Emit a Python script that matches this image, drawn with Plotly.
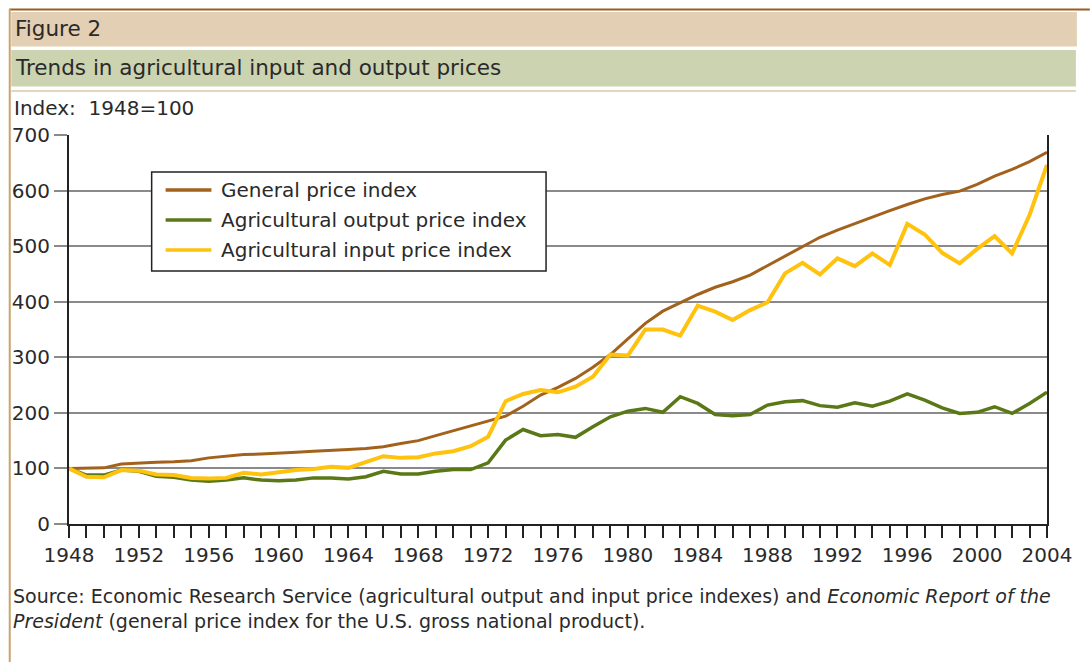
import plotly.graph_objects as go

# Dados (índice 1948 = 100)
anos = list(range(1948, 2005))

indice_geral = [100, 100, 101, 108, 110, 111, 112, 114, 119, 122,
                125, 126, 127, 129, 131, 132, 134, 136, 139, 145,
                150, 159, 168, 177, 185, 194, 212, 232, 246, 262,
                282, 305, 333, 361, 383, 398, 413, 426, 436, 448,
                465, 483, 500, 516, 529, 541, 553, 564, 575, 585,
                593, 599, 611, 626, 638, 652, 669]

indice_produto = [100, 88, 88, 97, 95, 86, 84, 79, 77, 79,
                  83, 79, 78, 79, 83, 83, 81, 85, 95, 90,
                  90, 95, 98, 98, 110, 151, 170, 159, 161, 156,
                  175, 193, 203, 208, 201, 229, 217, 197, 195, 197,
                  214, 220, 222, 213, 210, 218, 212, 221, 234, 223,
                  209, 199, 201, 211, 199, 217, 237]

indice_insumo = [100, 85, 84, 97, 96, 89, 88, 83, 82, 83,
                 92, 89, 93, 97, 99, 103, 101, 112, 122, 119,
                 120, 127, 131, 140, 157, 221, 234, 241, 237, 247,
                 265, 305, 303, 350, 350, 339, 393, 382, 367, 385,
                 399, 451, 470, 449, 478, 464, 487, 466, 540, 521,
                 488, 469, 495, 518, 487, 556, 646]

nomes = ['General price index', 'Agricultural output price index', 'Agricultural input price index']
cores = ['#A2621C', '#5A7816', '#FFC20E']
larguras = [3, 3.5, 4]

# Geometria da página (pixels)
W, H = 1090, 662
ML, MR, MT, MB = 65, 43, 135, 138
PW, PH = W - ML - MR, H - MB - MT


def px_x(p):
    return (p - ML) / PW


def px_y(p):
    return (H - MB - p) / PH


fig = go.Figure()
for nome, serie, cor, lw in zip(nomes, [indice_geral, indice_produto, indice_insumo], cores, larguras):
    fig.add_trace(go.Scatter(x=anos, y=serie, mode='lines', name=nome,
                             line=dict(color=cor, width=lw), showlegend=False))

fonte = 'Century Gothic, DejaVu Sans, sans-serif'
texto_cor = '#2a2a2a'

# Faixas do cabeçalho e bordas
fig.add_shape(type='line', xref='paper', yref='paper', x0=px_x(5), x1=px_x(1090),
              y0=px_y(9.5), y1=px_y(9.5), line=dict(color='#9A5C22', width=2))
fig.add_shape(type='line', xref='paper', yref='paper', x0=px_x(5.5), x1=px_x(5.5),
              y0=px_y(9), y1=px_y(662), line=dict(color='#C9A46E', width=2))
fig.add_shape(type='rect', xref='paper', yref='paper', x0=px_x(7), x1=px_x(1077),
              y0=px_y(12), y1=px_y(46.5), fillcolor='#E3CFB4', line_width=0)
fig.add_shape(type='rect', xref='paper', yref='paper', x0=px_x(7), x1=px_x(1076),
              y0=px_y(50), y1=px_y(86.5), fillcolor='#CBD3B1', line_width=0)
fig.add_shape(type='rect', xref='paper', yref='paper', x0=px_x(7), x1=px_x(1076),
              y0=px_y(90), y1=px_y(92), fillcolor='#E6D5BE', line_width=0)

anotacoes = [
    dict(text='Figure 2', x=px_x(9), y=px_y(29), size=21.5),
    dict(text='Trends in agricultural input and output prices', x=px_x(9), y=px_y(68), size=21.5),
    dict(text='Index:\u00a0\u00a01948=100', x=px_x(8), y=px_y(108), size=20),
]
for a in anotacoes:
    fig.add_annotation(text=a['text'], x=a['x'], y=a['y'], xref='paper', yref='paper',
                       xanchor='left', yanchor='middle', showarrow=False,
                       font=dict(family=fonte, size=a['size'], color=texto_cor))

fig.add_annotation(
    text='Source: Economic Research Service (agricultural output and input price indexes) and '
         '<i>Economic Report of the</i><br><i>President</i> (general price index for the U.S. gross national product).',
    x=px_x(7), y=px_y(583), xref='paper', yref='paper', xanchor='left', yanchor='top',
    align='left', showarrow=False, font=dict(family=fonte, size=19, color=texto_cor))

# Legenda desenhada à mão (caixa, amostras de linha e rótulos)
fig.add_shape(type='rect', xref='paper', yref='paper', x0=px_x(148), x1=px_x(544),
              y0=px_y(172), y1=px_y(271), fillcolor='white', line=dict(color='#222', width=1.5))
for i, (nome, cor) in enumerate(zip(nomes, cores)):
    yc = 190 + 30 * i
    fig.add_shape(type='line', xref='paper', yref='paper', x0=px_x(162), x1=px_x(208),
                  y0=px_y(yc), y1=px_y(yc), line=dict(color=cor, width=3.5))
    fig.add_annotation(text=nome, x=px_x(216), y=px_y(yc), xref='paper', yref='paper',
                       xanchor='left', yanchor='middle', showarrow=False,
                       font=dict(family=fonte, size=20, color=texto_cor))

fig.update_layout(
    width=W, height=H,
    margin=dict(l=ML, r=MR, t=MT, b=MB),
    paper_bgcolor='white', plot_bgcolor='white',
    font=dict(family=fonte, size=20, color=texto_cor),
    showlegend=False
)

fig.update_xaxes(range=[1948, 2004], tick0=1948, dtick=4, showgrid=False,
                 showline=True, linecolor='#222', linewidth=2,
                 ticks='outside', ticklen=12, tickcolor='#222', tickwidth=1.5,
                 minor=dict(dtick=1, ticks='outside', ticklen=12, tickcolor='#222', tickwidth=1.5, showgrid=False),
                 tickfont=dict(size=20), zeroline=False)
fig.update_yaxes(range=[0, 700], dtick=100, showgrid=True, gridcolor='#8a8a8a', gridwidth=1.5,
                 showline=True, linecolor='#222', linewidth=2, mirror=True,
                 ticks='outside', ticklen=13, tickcolor='#8a8a8a', tickwidth=1.5,
                 tickfont=dict(size=20), zeroline=False)

# remove a margem padrão do <body> para a figura começar no canto
fig.write_html("out.html", config={'displayModeBar': False},
               post_script="document.body.style.margin='0px';")
